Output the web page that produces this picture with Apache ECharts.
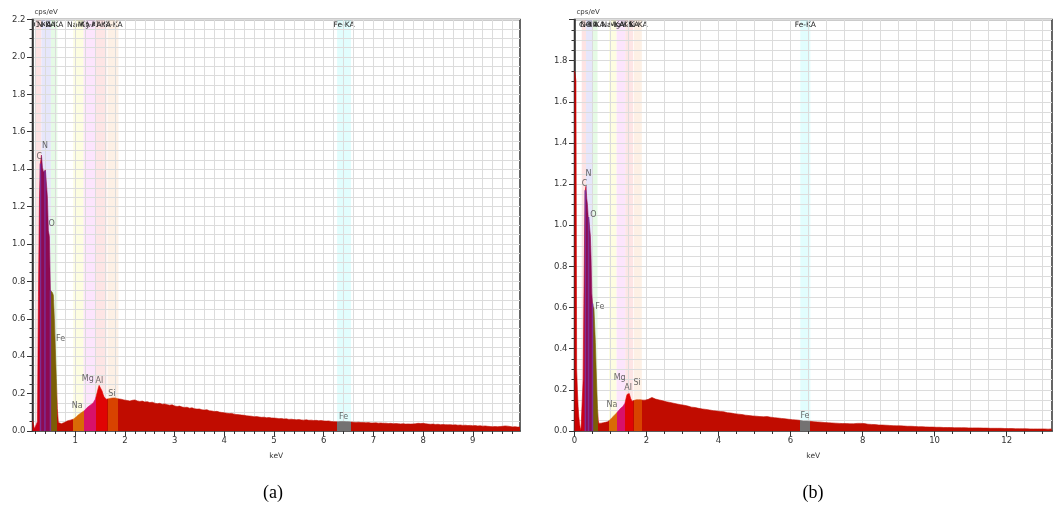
<!DOCTYPE html>
<html>
<head>
<meta charset="utf-8">
<script src="https://cdn.jsdelivr.net/npm/echarts@6/dist/echarts.min.js"></script>
<style>
html,body{margin:0;padding:0;background:#fff}
#chart{width:1053px;height:506px}
</style>
</head>
<body>
<div id="chart"></div>
<script>
// EDS spectra of two samples: counts per eV against photon energy (keV).

// Channel spacing: 20 eV below 2 keV, 50 eV above.
const fineStepKeV = 0.02;
const coarseStepKeV = 0.05;

// Sample (a)
const aFineStartKeV = 0.14;
const aFineCps = [
  0.055,0.035,0.012,0.004,0.004,0.050,0.720,1.240,1.430,1.475,
  1.410,1.385,1.390,1.396,1.400,1.250,1.070,1.040,0.752,0.745,
  0.740,0.726,0.600,0.440,0.280,0.120,0.045,0.038,0.040,0.039,
  0.041,0.043,0.045,0.052,0.055,0.054,0.057,0.059,0.058,0.061,
  0.062,0.063,0.068,0.072,0.075,0.080,0.086,0.090,0.093,0.097,
  0.101,0.104,0.108,0.112,0.118,0.125,0.130,0.134,0.138,0.142,
  0.145,0.150,0.158,0.168,0.185,0.205,0.226,0.244,0.251,0.238,
  0.214,0.196,0.183,0.176,0.170,0.168,0.170,0.173,0.172,0.175,
  0.176,0.174,0.178,0.177,0.175,0.176,0.172,0.170,0.168,0.170,
  0.167,0.168,0.166
];
const aCoarseStartKeV = 2.00;
const aCoarseCps = [
  0.165,0.163,0.160,0.164,0.166,0.161,0.158,0.160,0.155,0.157,0.152,0.154,0.149,0.146,0.148,0.143,0.145,0.141,0.138,0.140,
  0.134,0.131,0.133,0.128,0.126,0.127,0.122,0.124,0.119,0.117,0.118,0.113,0.112,0.114,0.108,0.107,0.104,0.105,0.101,0.099,
  0.097,0.095,0.093,0.094,0.090,0.088,0.087,0.085,0.084,0.081,0.080,0.079,0.076,0.077,0.075,0.073,0.074,0.071,0.072,0.070,
  0.069,0.068,0.066,0.067,0.064,0.065,0.062,0.063,0.061,0.060,0.061,0.059,0.058,0.060,0.057,0.058,0.056,0.057,0.055,0.056,
  0.054,0.053,0.054,0.051,0.050,0.049,0.050,0.051,0.051,0.050,0.050,0.048,0.047,0.046,0.047,0.045,0.046,0.044,0.045,0.043,
  0.043,0.044,0.042,0.043,0.041,0.042,0.040,0.041,0.039,0.040,0.039,0.038,0.039,0.037,0.038,0.037,0.038,0.039,0.041,0.040,
  0.041,0.039,0.037,0.036,0.037,0.035,0.036,0.034,0.035,0.034,0.033,0.034,0.032,0.033,0.031,0.032,0.030,0.031,0.029,0.030,
  0.028,0.029,0.027,0.028,0.026,0.027,0.025,0.024,0.023,0.024,0.023,0.024,0.025,0.027,0.026,0.024,0.022,0.023,0.021,0.021
];

// Sample (b)
const bFineStartKeV = 0.00;
const bFineCps = [
  1.750,1.730,1.700,0.300,0.200,0.120,0.070,0.035,0.015,0.004,
  0.002,0.010,0.250,0.620,0.950,1.170,1.190,1.130,1.100,1.040,
  1.025,1.020,0.950,0.840,0.670,0.620,0.605,0.595,0.510,0.430,
  0.310,0.200,0.110,0.050,0.037,0.035,0.036,0.038,0.037,0.039,
  0.040,0.041,0.040,0.042,0.043,0.044,0.045,0.047,0.050,0.053,
  0.057,0.061,0.065,0.068,0.072,0.075,0.079,0.082,0.086,0.090,
  0.094,0.098,0.102,0.106,0.110,0.113,0.116,0.119,0.122,0.127,
  0.135,0.150,0.165,0.178,0.186,0.187,0.182,0.170,0.158,0.150,
  0.145,0.143,0.145,0.149,0.152,0.153,0.152,0.154,0.153,0.152,
  0.151,0.153,0.152,0.150,0.151,0.150,0.152,0.151,0.150,0.152
];
const bCoarseStartKeV = 2.00;
const bCoarseCps = [
  0.152,0.154,0.158,0.163,0.158,0.155,0.153,0.151,0.149,0.147,0.144,0.142,0.141,0.139,0.137,0.135,0.134,0.131,0.130,0.128,
  0.127,0.125,0.122,0.121,0.119,0.116,0.115,0.114,0.111,0.110,0.109,0.107,0.106,0.105,0.103,0.102,0.101,0.099,0.098,0.097,
  0.097,0.095,0.093,0.093,0.091,0.089,0.088,0.087,0.086,0.084,0.083,0.082,0.080,0.080,0.078,0.077,0.076,0.075,0.074,0.073,
  0.073,0.072,0.071,0.070,0.070,0.069,0.076,0.070,0.068,0.067,0.066,0.065,0.064,0.063,0.062,0.061,0.060,0.059,0.058,0.057,
  0.056,0.055,0.055,0.054,0.053,0.052,0.049,0.048,0.048,0.048,0.047,0.047,0.046,0.045,0.045,0.044,0.043,0.043,0.042,0.041,
  0.041,0.040,0.040,0.039,0.039,0.038,0.038,0.037,0.037,0.036,0.036,0.036,0.035,0.035,0.035,0.035,0.036,0.037,0.038,0.037,
  0.038,0.036,0.034,0.033,0.032,0.032,0.031,0.031,0.030,0.029,0.029,0.029,0.028,0.028,0.027,0.027,0.027,0.026,0.026,0.025,
  0.025,0.025,0.024,0.024,0.024,0.023,0.023,0.023,0.022,0.022,0.022,0.021,0.021,0.021,0.020,0.020,0.020,0.019,0.019,0.019,
  0.019,0.018,0.018,0.018,0.018,0.017,0.017,0.017,0.017,0.017,0.016,0.016,0.016,0.016,0.016,0.016,0.015,0.016,0.016,0.015,
  0.015,0.015,0.015,0.015,0.014,0.015,0.014,0.014,0.014,0.014,0.014,0.013,0.014,0.013,0.013,0.013,0.013,0.013,0.013,0.012,
  0.012,0.012,0.012,0.012,0.012,0.011,0.012,0.011,0.011,0.011,0.011,0.011,0.011,0.010,0.011,0.010,0.010,0.010,0.010,0.010,
  0.010,0.010,0.010,0.009,0.010,0.010
];

// Element integration windows (keV)
const windowNames = ['C-KA','N-KA','O-KA','Na-KA','Mg-KA','Al-KA','Si-KA','Fe-KA'];
const windowFrom  = [0.20, 0.32, 0.51, 0.96, 1.17, 1.41, 1.65, 6.27];
const windowTo    = [0.32, 0.51, 0.64, 1.17, 1.41, 1.63, 1.87, 6.55];

// Peak identification: element and line energy (keV), label height (cps/eV)
const peakNames = ['C','N','O','Fe','Na','Mg','Al','Si','Fe'];
const peakKeV   = [0.277,0.392,0.525,0.705,1.041,1.254,1.487,1.740,6.400];
const aPeakLabelCps = [1.467,1.524,1.105,0.490,0.134,0.276,0.269,0.196,0.075];
const bPeakLabelCps = [1.200,1.249,1.050,0.604,0.126,0.256,0.207,0.232,0.071];

// Line markers inside the light-element peaks (keV)
const markerKeV = [0.30, 0.39, 0.50];

// Axis tick values
const aXMajor = [1,2,3,4,5,6,7,8,9];
const bXMajor = [0,2,4,6,8,10,12];
const aXRange = [0.14, 9.95];
const bXRange = [0, 13.26];
const aYMax = 2.2;
const bYMax = 2.0;

// ---- styles ----
const fillColor = {
  zero: '#cc0000', base: '#c00c00',
  'C-KA': '#cc0016', 'N-KA': '#8e0a52', 'O-KA': '#7b5e06',
  'Na-KA': '#d96a06', 'Mg-KA': '#d8116a', 'Al-KA': '#e00404', 'Si-KA': '#d84300',
  'Fe-KA': '#747272'
};
const windowColor = {
  'C-KA': '#fde3e3', 'N-KA': '#e6e6fb', 'O-KA': '#e5fae5', 'Na-KA': '#fdfde1',
  'Mg-KA': '#fce5fc', 'Al-KA': '#fde5e5', 'Si-KA': '#fdf0e5', 'Fe-KA': '#e1fdfd'
};
const windowLabelShift = { 'C-KA': 4 };
const FONT = 'DejaVu Sans';
const gridLineColor = '#dcdcdc';
const axisColor = '#333';

function channels(start, step, cps) {
  return cps.map((v, i) => [+(start + i * step).toFixed(3), v]);
}
const aSpectrum = channels(aFineStartKeV, fineStepKeV, aFineCps)
  .concat(channels(aCoarseStartKeV, coarseStepKeV, aCoarseCps));
const bSpectrum = channels(bFineStartKeV, fineStepKeV, bFineCps)
  .concat(channels(bCoarseStartKeV, coarseStepKeV, bCoarseCps));

function nearestCps(spectrum, e) {
  let best = spectrum[0];
  for (const p of spectrum) if (Math.abs(p[0] - e) < Math.abs(best[0] - e)) best = p;
  return best[1];
}

function steps(from, to, step) {
  const out = [];
  for (let k = 0; from + k * step <= to + 1e-9; k++) out.push(+(from + k * step).toFixed(2));
  return out;
}
const aXGrid = steps(0.2, 9.8, 0.2);
const bXGrid = steps(0.5, 13.0, 0.5);

function fillPieces() {
  const p = [{ lt: windowFrom[0], color: fillColor.zero }];
  let edge = windowFrom[0];
  windowNames.forEach((n, i) => {
    if (windowFrom[i] > edge + 1e-9) p.push({ gte: edge, lt: windowFrom[i], color: fillColor.base });
    p.push({ gte: windowFrom[i], lt: windowTo[i], color: fillColor[n] });
    edge = windowTo[i];
  });
  p.push({ gte: edge, color: fillColor.base });
  return p;
}

function xAxes(grid, range, gridVals, majorVals) {
  return [
    {
      type: 'value', gridIndex: grid, min: range[0], max: range[1], position: 'bottom',
      axisLine: { show: true, onZero: false, lineStyle: { color: axisColor, width: 1.5 } },
      axisTick: { show: true, customValues: gridVals, length: 3, lineStyle: { color: axisColor } },
      axisLabel: { show: false },
      splitLine: { show: true, lineStyle: { color: gridLineColor, width: 1 } }
    },
    {
      type: 'value', gridIndex: grid, min: range[0], max: range[1], position: 'bottom',
      axisLine: { show: false, onZero: false },
      axisTick: { show: true, customValues: majorVals, length: 5.5, lineStyle: { color: axisColor } },
      axisLabel: { customValues: majorVals, fontFamily: FONT, fontSize: 8.5, color: '#333', margin: 5 },
      splitLine: { show: false },
      name: 'keV', nameLocation: 'middle', nameGap: 21,
      nameTextStyle: { fontFamily: FONT, fontSize: 7.5, color: '#333' }
    }
  ];
}

function yAxis(grid, max, hideMax) {
  return {
    type: 'value', gridIndex: grid, min: 0, max: max, interval: 0.2,
    axisLine: { show: true, onZero: false, lineStyle: { color: axisColor, width: 1.5 } },
    axisTick: { show: true, length: 5.5, lineStyle: { color: axisColor } },
    minorTick: { show: true, splitNumber: 4, length: 3, lineStyle: { color: axisColor } },
    axisLabel: {
      fontFamily: FONT, fontSize: 8.5, color: '#333', margin: 7,
      showMaxLabel: !hideMax,
      formatter: v => v.toFixed(1)
    },
    splitLine: { show: true, lineStyle: { color: gridLineColor, width: 1 } },
    minorSplitLine: { show: true, lineStyle: { color: gridLineColor, width: 1 } },
    name: 'cps/eV', nameLocation: 'end', nameGap: 4,
    nameTextStyle: { fontFamily: FONT, fontSize: 7, color: '#333', align: 'left', padding: [0, 0, 0, 2] }
  };
}

function bandSeries(xi, yi) {
  return {
    type: 'line', xAxisIndex: xi, yAxisIndex: yi, data: [], silent: true, z: -1,
    markArea: {
      silent: true, z: -1,
      label: { show: true, position: 'insideTop', distance: 2, fontFamily: FONT, fontSize: 7.5, color: '#222' },
      data: windowNames.map((n, i) => [
        { name: n, xAxis: windowFrom[i], itemStyle: { color: windowColor[n], opacity: 1 },
          label: { offset: [windowLabelShift[n] || 0, 0] } },
        { xAxis: windowTo[i] }
      ])
    }
  };
}

function spectrumSeries(xi, yi, spectrum) {
  return {
    type: 'line', xAxisIndex: xi, yAxisIndex: yi, data: spectrum, z: 2,
    showSymbol: false, silent: true, animation: false,
    lineStyle: { width: 0.6 },
    areaStyle: { opacity: 1 }
  };
}

function markerSeries(xi, yi, spectrum) {
  return {
    type: 'bar', xAxisIndex: xi, yAxisIndex: yi, barWidth: 1.5, z: 3, silent: true,
    itemStyle: { color: '#7d2f93' },
    data: markerKeV.map(e => [e, nearestCps(spectrum, e)])
  };
}

function labelSeries(xi, yi, heights) {
  return {
    type: 'scatter', xAxisIndex: xi, yAxisIndex: yi, symbolSize: 1, z: 5, silent: true,
    itemStyle: { color: 'rgba(0,0,0,0)' },
    label: { show: true, position: 'inside', formatter: '{b}', fontFamily: FONT, fontSize: 8, color: '#444' },
    data: peakNames.map((n, i) => ({ name: n, value: [peakKeV[i], heights[i]] }))
  };
}

const chart = echarts.init(document.getElementById('chart'), null, { renderer: 'canvas' });
chart.setOption({
  animation: false,
  backgroundColor: '#fff',
  textStyle: { fontFamily: FONT },
  grid: [
    { left: 32.5, top: 19.5, width: 487.5, height: 411.5, show: true, borderColor: axisColor, borderWidth: 1.5, backgroundColor: 'transparent' },
    { left: 574.5, top: 19.5, width: 477.5, height: 411.5, show: true, borderColor: axisColor, borderWidth: 1.5, backgroundColor: 'transparent' }
  ],
  xAxis: xAxes(0, aXRange, aXGrid, aXMajor).concat(xAxes(1, bXRange, bXGrid, bXMajor)),
  yAxis: [yAxis(0, aYMax, false), yAxis(1, bYMax, true)],
  visualMap: [
    { type: 'piecewise', show: false, dimension: 0, seriesIndex: 1, pieces: fillPieces() },
    { type: 'piecewise', show: false, dimension: 0, seriesIndex: 5, pieces: fillPieces() }
  ],
  series: [
    bandSeries(0, 0),
    spectrumSeries(0, 0, aSpectrum),
    markerSeries(0, 0, aSpectrum),
    labelSeries(0, 0, aPeakLabelCps),
    bandSeries(2, 1),
    spectrumSeries(2, 1, bSpectrum),
    markerSeries(2, 1, bSpectrum),
    labelSeries(2, 1, bPeakLabelCps)
  ],
  graphic: [
    { type: 'text', x: 273, y: 493, style: { text: '(a)', font: '18px "Liberation Serif"', fill: '#000', align: 'center', verticalAlign: 'middle' } },
    { type: 'text', x: 813, y: 493, style: { text: '(b)', font: '18px "Liberation Serif"', fill: '#000', align: 'center', verticalAlign: 'middle' } }
  ]
});
</script>
</body>
</html>
